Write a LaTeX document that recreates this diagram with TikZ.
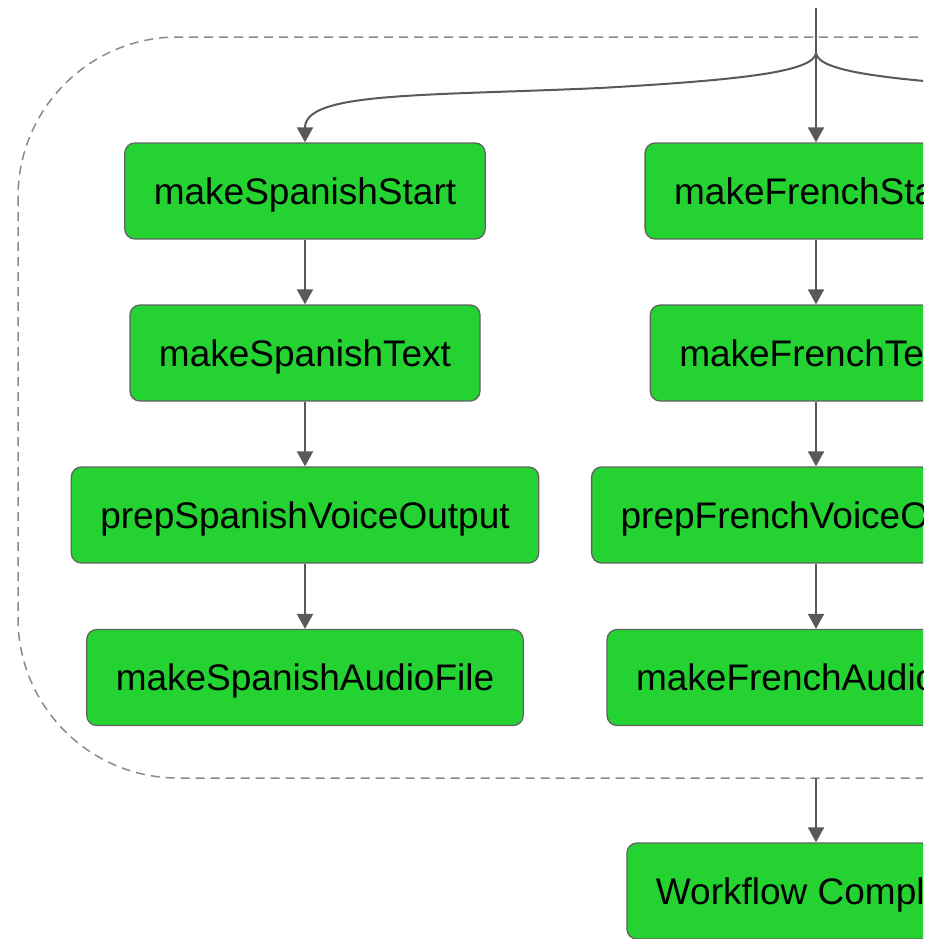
\documentclass[tikz,border=0pt]{standalone}
\usepackage{fontspec}
\setmainfont{Liberation Sans}
\usetikzlibrary{arrows.meta}
\definecolor{boxgreen}{HTML}{24D331}
\definecolor{edgegray}{HTML}{595959}
\definecolor{bordergray}{HTML}{626262}
\definecolor{dashgray}{HTML}{8A8A8A}
\tikzset{
  task/.style={draw=bordergray, line width=1.3pt, fill=boxgreen, rounded corners=10pt,
    minimum height=96pt, inner xsep=29pt, inner ysep=0pt, text height=26pt, text depth=0pt,
    font=\fontsize{37}{44}\selectfont, text=black},
  conn/.style={draw=edgegray, line width=2pt, -{Triangle[width=16pt,length=15pt]}},
  plainconn/.style={draw=edgegray, line width=2pt},
  cluster/.style={draw=dashgray, line width=1.5pt, dash pattern=on 9pt off 6pt, rounded corners=160pt},
}
\begin{document}
\begin{tikzpicture}[x=1pt,y=-1pt]
\useasboundingbox (0,0) rectangle (941,938);
\begin{scope}
\clip (0,0) rectangle (923,938);
\draw[cluster] (18,37) rectangle (1200,778);
\node[task] (sps) at (305,191) {makeSpanishStart};
\node[task] (spt) at (305,353) {makeSpanishText};
\node[task] (spv) at (305,515) {prepSpanishVoiceOutput};
\node[task] (spa) at (305,677.5) {makeSpanishAudioFile};
\node[task] (frs) at (816,191) {makeFrenchStart};
\node[task] (frt) at (816,353) {makeFrenchText};
\node[task] (frv) at (816,515) {prepFrenchVoiceOutput};
\node[task] (fra) at (816,677.5) {makeFrenchAudioFile};
\node[task] (done) at (816,891) {Workflow Complete};
\coordinate (top) at (816,8);
\coordinate (junc) at (816,53);
\coordinate (clbot) at (816,778);
\coordinate (offright) at (1020,88);
\draw[plainconn] (top) -- (junc);
\draw[conn] (junc) .. controls (814,72) and (740,80) .. (600,88) .. controls (420,96) and (305,92) .. (sps.north);
\draw[conn] (junc) -- (frs);
\draw[plainconn] (junc) .. controls (818,72) and (890,80) .. (offright);
\draw[conn] (sps) -- (spt);
\draw[conn] (spt) -- (spv);
\draw[conn] (spv) -- (spa);
\draw[conn] (frs) -- (frt);
\draw[conn] (frt) -- (frv);
\draw[conn] (frv) -- (fra);
\draw[conn] (clbot) -- (done);
\end{scope}
\end{tikzpicture}
\end{document}
